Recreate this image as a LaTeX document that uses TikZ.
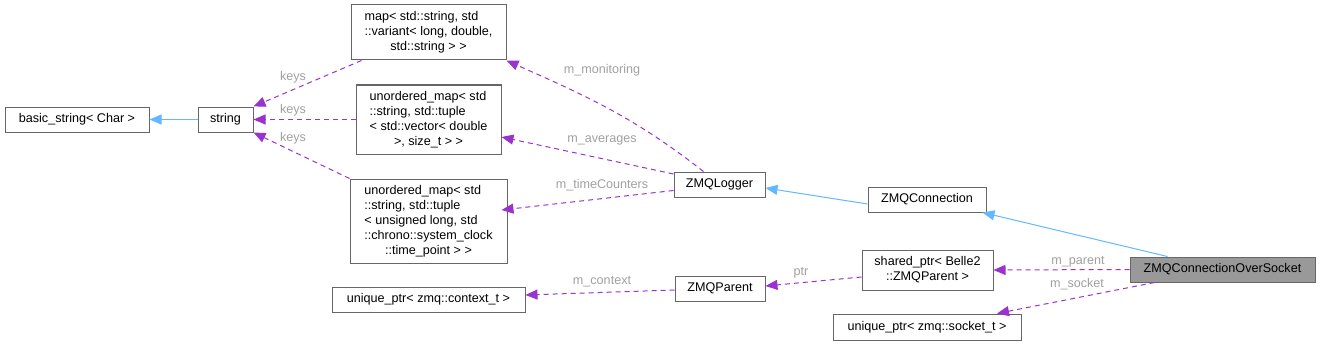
\documentclass[tikz,border=0pt]{standalone}
\usepackage{fontspec}
\setmainfont{Liberation Sans}
\usepackage{xcolor}
\usepackage{tikz}
\usetikzlibrary{arrows.meta, positioning}

\definecolor{edgeblue}{HTML}{63B8FF}
\definecolor{edgepurple}{HTML}{9A32CD}
\definecolor{boxgray}{HTML}{666666}
\definecolor{lblgray}{HTML}{A0A0A0}
\definecolor{rootfill}{HTML}{999999}

\begin{document}
\begin{tikzpicture}[x=1pt, y=-1pt,
        cls/.style={draw=boxgray, line width=1pt, fill=white, inner sep=0pt,
            font=\fontsize{12.6}{15}\selectfont},
        root/.style={cls, fill=rootfill},
        lbl/.style={text=lblgray, inner sep=0pt, font=\fontsize{12.6}{15}\selectfont},
        inherit/.style={draw=edgeblue, line width=1pt, -{Triangle[length=12pt,width=10pt]}},
        member/.style={draw=edgepurple, line width=1pt, dash pattern=on 5pt off 4pt,
            -{Triangle[length=12pt,width=10pt]}}]
    \useasboundingbox (0,0) rectangle (1320,345);

    % classes
    \node[cls, minimum width=144, minimum height=25] (basic) at (77,119.5) {basic\_string< Char >};
    \node[cls, minimum width=55, minimum height=25] (string) at (225.5,119.5) {string};
    \node[cls, minimum width=155, minimum height=55] (map) at (428.5,32.5)
        {\begin{tabular}{@{}l@{}}map< std::string, std\\::variant< long, double,\\\multicolumn{1}{@{}c@{}}{std::string > >}\end{tabular}};
    \node[cls, minimum width=145, minimum height=69] (avg) at (428.5,119.5)
        {\begin{tabular}{@{}l@{}}unordered\_map< std\\::string, std::tuple\\< std::vector< double\\\multicolumn{1}{@{}c@{}}{>, size\_t > >}\end{tabular}};
    \node[cls, minimum width=157, minimum height=84] (tc) at (428.5,221)
        {\begin{tabular}{@{}l@{}}unordered\_map< std\\::string, std::tuple\\< unsigned long, std\\::chrono::system\_clock\\\multicolumn{1}{@{}c@{}}{::time\_point > >}\end{tabular}};
    \node[cls, minimum width=193, minimum height=25] (ctx) at (428.5,299.5) {unique\_ptr< zmq::context\_t >};
    \node[cls, minimum width=91, minimum height=25] (logger) at (719.5,184.5) {ZMQLogger};
    \node[cls, minimum width=90, minimum height=25] (parent) at (720,288.5) {ZMQParent};
    \node[cls, minimum width=118, minimum height=25] (conn) at (927,199.5) {ZMQConnection};
    \node[cls, minimum width=131, minimum height=40] (shared) at (927.5,270)
        {\begin{tabular}{@{}l@{}}shared\_ptr< Belle2\\\multicolumn{1}{@{}c@{}}{::ZMQParent >}\end{tabular}};
    \node[cls, minimum width=188, minimum height=26] (sock) at (927,327) {unique\_ptr< zmq::socket\_t >};
    \node[root, minimum width=185, minimum height=25] (over) at (1222.5,269.5) {ZMQConnectionOverSocket};

    % edge labels
    \node[lbl] (k1) at (293,77) {keys};
    \node[lbl] (k2) at (293,110) {keys};
    \node[lbl] (k3) at (293,138) {keys};
    \node[lbl] (lmon) at (602,70) {m\_monitoring};
    \node[lbl] (lavg) at (602,140) {m\_averages};
    \node[lbl] (ltc) at (602,185) {m\_timeCounters};
    \node[lbl] (lctx) at (602,282) {m\_context};
    \node[lbl] (lptr) at (801,273) {ptr};
    \node[lbl] (lpar) at (1078,262) {m\_parent};
    \node[lbl] (lsock) at (1077,284) {m\_socket};

    % inheritance
    \draw[inherit] (string.west) -- (basic.east);
    \draw[inherit] ([yshift=-4.5pt]conn.west) -- ([yshift=-3.5pt]logger.east);
    \draw[inherit] ([xshift=38pt]over.north west) -- ([xshift=-4pt]conn.south east);

    % members
    \draw[member] ([xshift=11pt]map.south west) -- (string.north east);
    \draw[member] (avg.west) -- (string.east);
    \draw[member] (tc.north west) -- (string.south east);
    \draw[member] ([xshift=-16pt]logger.north) to[out=142, in=-24] (map.south east);
    \draw[member] ([yshift=-2.5pt]logger.north west) -- ([yshift=-17.5pt]avg.east);
    \draw[member] ([yshift=-6pt]logger.west) -- ([yshift=11pt]avg.east |- tc.east);
    \draw[member] ([yshift=-1.5pt]parent.west) -- ([yshift=4.5pt]ctx.east);
    \draw[member] ([yshift=-7pt]shared.west) -- ([yshift=2.5pt]parent.east);
    \draw[member] (over.west) -- (shared.east);
    \draw[member] ([xshift=25pt]over.south west) -- ([xshift=70pt]sock.north);
\end{tikzpicture}
\end{document}
